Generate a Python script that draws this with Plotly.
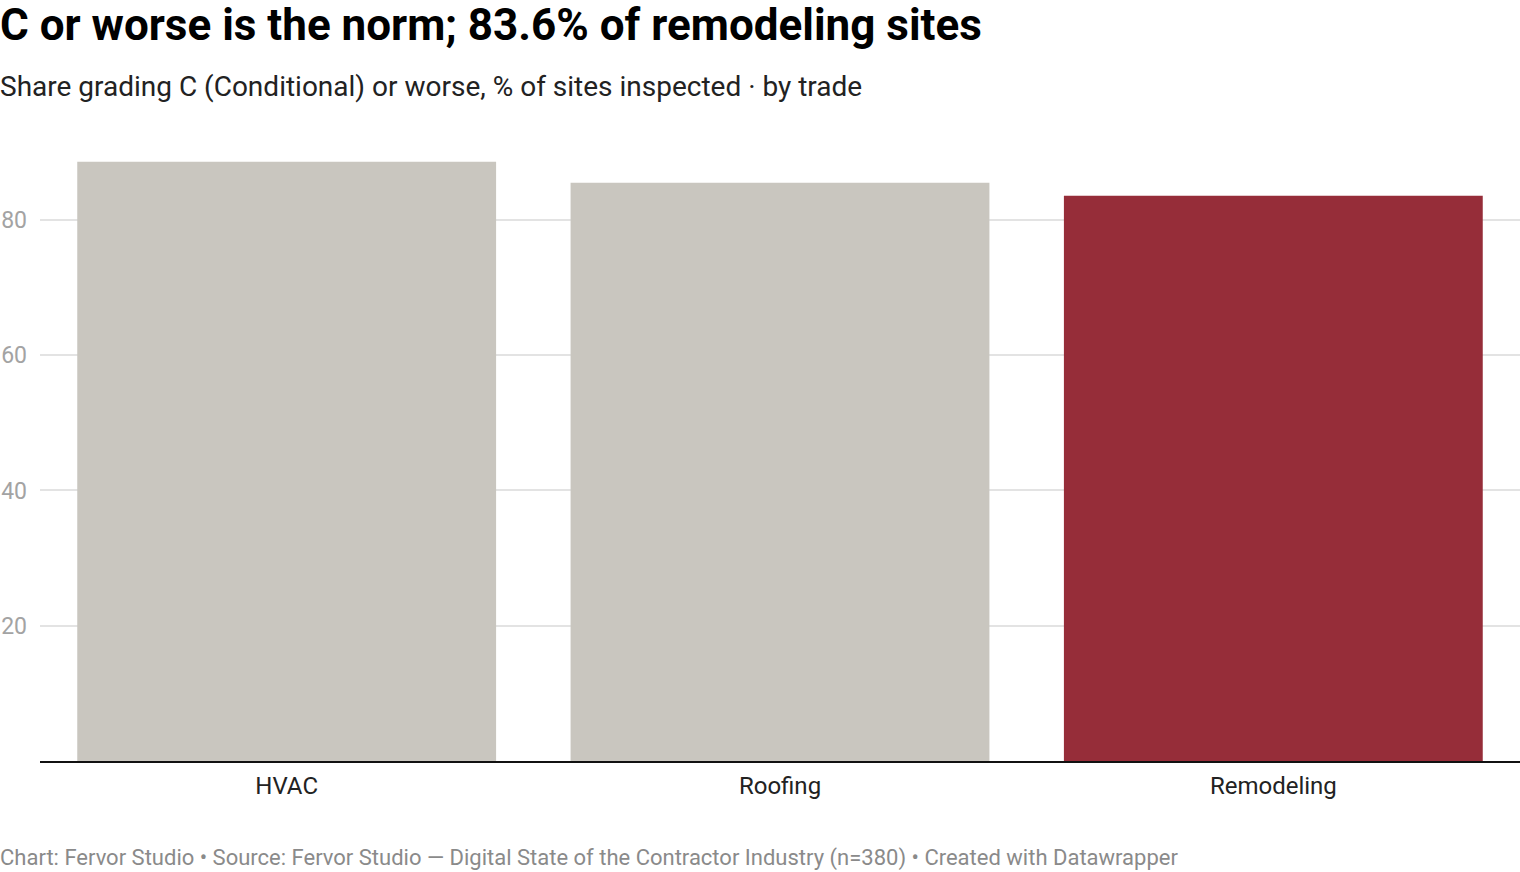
import plotly.graph_objects as go

trades = ['HVAC', 'Roofing', 'Remodeling']
share_c_or_worse = [88.6, 85.5, 83.6]
bar_colors = ['#c9c6bf', '#c9c6bf', '#962d39']
y_ticks = [20, 40, 60, 80]

W, H = 1520, 872
ML, MR, MT, MB = 40, 0, 151, 111


def px_x(x):
    # page pixel -> paper x
    return (x - ML) / (W - ML - MR)


def px_y(y):
    # page pixel -> paper y
    return (H - MB - y) / (H - MT - MB)


fig = go.Figure()
fig.add_trace(go.Bar(
    x=trades, y=share_c_or_worse,
    marker=dict(color=bar_colors, line=dict(width=0)),
    hoverinfo='x+y',
))

fig.update_layout(
    width=W, height=H,
    margin=dict(l=ML, r=MR, t=MT, b=MB, pad=0, autoexpand=False),
    plot_bgcolor='white', paper_bgcolor='white',
    font=dict(family='Roboto', color='#333333'),
    showlegend=False,
    bargap=0.151,
    annotations=[
        dict(text='<b>C or worse is the norm; 83.6% of remodeling sites</b>',
             x=px_x(-2), y=px_y(25), xref='paper', yref='paper',
             xanchor='left', yanchor='middle', showarrow=False,
             font=dict(size=44, color='#000000', family='Roboto')),
        dict(text='Share grading C (Conditional) or worse, % of sites inspected · by trade',
             x=px_x(-2), y=px_y(87), xref='paper', yref='paper',
             xanchor='left', yanchor='middle', showarrow=False,
             font=dict(size=28, color='#222222', family='Roboto')),
        dict(text='Chart: Fervor Studio • Source: Fervor Studio — Digital State of the Contractor Industry (n=380) • Created with Datawrapper',
             x=px_x(-2), y=px_y(858), xref='paper', yref='paper',
             xanchor='left', yanchor='middle', showarrow=False,
             font=dict(size=22, color='#8a8a8a', family='Roboto')),
    ],
)
fig.update_xaxes(
    showgrid=False, showline=True, linecolor='#111111', linewidth=2,
    ticks='', tickfont=dict(size=24, color='#222222'),
    ticklabelstandoff=2,
)
fig.update_yaxes(
    range=[0, 90.2], tickvals=y_ticks, showgrid=True, gridcolor='#e3e3e3',
    gridwidth=2, zeroline=False, showline=False, ticks='',
    tickfont=dict(size=23, color='#a3a3a3'),
    ticklabelstandoff=12,
)

# drop the browser's default 8px body margin so the figure fills the window
fig.write_html('out.html', config={'displayModeBar': False},
               post_script="document.body.style.margin='0';")
